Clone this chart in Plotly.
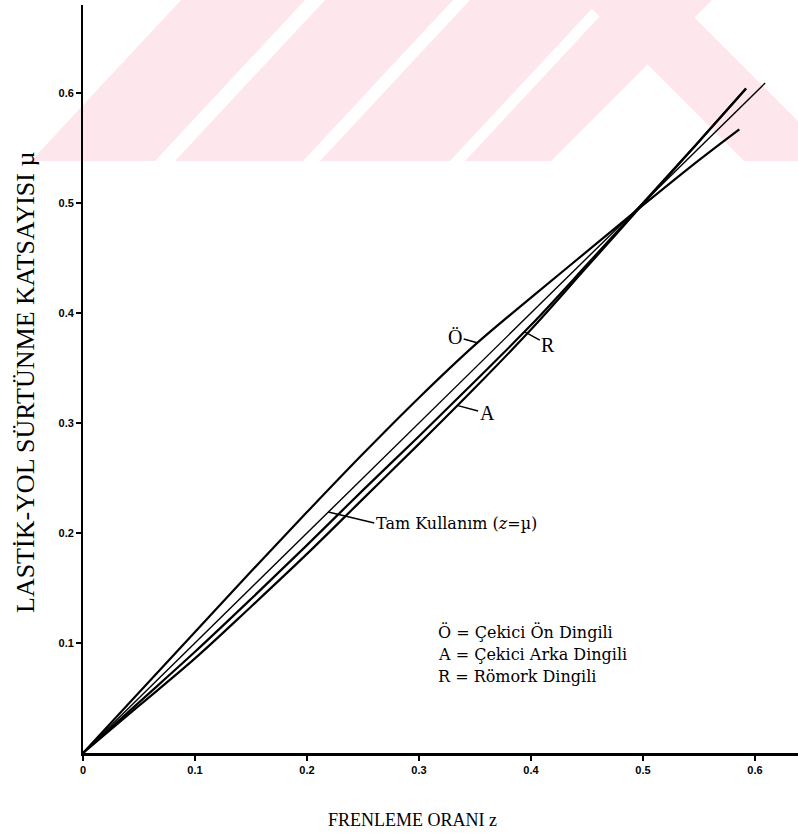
import plotly.graph_objects as go

# ---- data ----
z_diag = [0.0, 0.609]
mu_diag = [0.0, 0.609]

z_O = [0, 0.05, 0.10, 0.15, 0.20, 0.25, 0.30, 0.35, 0.40, 0.45, 0.50, 0.55, 0.586]
mu_O = [0, 0.055, 0.110, 0.165, 0.219, 0.272, 0.323, 0.371, 0.414, 0.456, 0.498, 0.539, 0.567]

z_R = [0, 0.05, 0.10, 0.15, 0.20, 0.25, 0.30, 0.35, 0.40, 0.45, 0.50, 0.55, 0.592]
mu_R = [0, 0.046, 0.092, 0.140, 0.189, 0.239, 0.288, 0.338, 0.389, 0.444, 0.500, 0.556, 0.604]

z_A = [0, 0.05, 0.10, 0.15, 0.20, 0.25, 0.30, 0.35, 0.40, 0.45, 0.50, 0.55, 0.592]
mu_A = [0, 0.043, 0.086, 0.133, 0.181, 0.231, 0.281, 0.332, 0.385, 0.442, 0.499, 0.556, 0.604]

x_ticks = [0, 0.1, 0.2, 0.3, 0.4, 0.5, 0.6]
x_ticktext = ["0", "0.1", "0.2", "0.3", "0.4", "0.5", "0.6"]
y_ticks = [0.1, 0.2, 0.3, 0.4, 0.5, 0.6]
y_ticktext = ["0.1", "0.2", "0.3", "0.4", "0.5", "0.6"]

legend_lines = ["Ö = Çekici Ön Dingili", "A = Çekici Arka Dingili", "R = Römork Dingili"]

W, H = 798, 834
ML, MR, MT, MB = 83, 0, 5, 81
PW, PH = W - ML - MR, H - MT - MB
X_MAX = PW / 1120.0
Y_MAX = PH / 1100.0

SERIF = "Liberation Serif, Times New Roman, serif"
WSERIF = "DejaVu Serif, serif"

def px(xp):
    return (xp - ML) / PW

def py(yp):
    return (H - MB - yp) / PH

fig = go.Figure()
line_style = dict(color="black", width=2.2)
fig.add_trace(go.Scatter(x=z_O, y=mu_O, mode="lines", line=line_style, line_shape="spline", hoverinfo="skip"))
fig.add_trace(go.Scatter(x=z_R, y=mu_R, mode="lines", line=line_style, line_shape="spline", hoverinfo="skip"))
fig.add_trace(go.Scatter(x=z_A, y=mu_A, mode="lines", line=line_style, line_shape="spline", hoverinfo="skip"))
fig.add_trace(go.Scatter(x=z_diag, y=mu_diag, mode="lines", line=dict(color="black", width=1.4), hoverinfo="skip"))

# watermark (pink band at the top of the scanned page)
pink = "rgba(253,231,236,1)"
polys = [
    [(181, 0), (305, 0), (155, 161), (31, 161)],
    [(325, 0), (453, 0), (303, 161), (175, 161)],
    [(470, 0), (600, 0), (450, 161), (320, 161)],
    [(615, 0), (712, 0), (551, 161), (465, 161)],
    [(583, 0), (677, 0), (838, 161), (744, 161)],
]
shapes = []
for poly in polys:
    path = "M " + " L ".join("{:.5f},{:.5f}".format(px(a), py(b)) for a, b in poly) + " Z"
    shapes.append(dict(type="path", xref="paper", yref="paper", path=path,
                       fillcolor=pink, line=dict(width=0), layer="below"))
fig.update_layout(shapes=shapes)

ann = []
def lab(text, x, y, ax, ay, size=20, anchor="center", family=SERIF):
    ann.append(dict(x=x, y=y, xref="x", yref="y", text=text, showarrow=True,
                    arrowhead=0, arrowwidth=1.5, arrowcolor="black", ax=ax, ay=ay,
                    xanchor=anchor, yanchor="middle", font=dict(family=family, size=size, color="black")))

lab("Ö", 0.352, 0.373, -22, -6)
lab("R", 0.394, 0.383, 24, 13)
lab("A", 0.334, 0.316, 30, 8)
lab("Tam Kullanım (<i>z</i>=µ)", 0.219, 0.219, 46, 11, size=16, anchor="left", family=WSERIF)

for i, t in enumerate(legend_lines):
    ann.append(dict(x=px(436), y=py(632 + 22 * i), xref="paper", yref="paper", text=t,
                    showarrow=False, xanchor="left", yanchor="middle",
                    font=dict(family=WSERIF, size=16, color="black")))

ann.append(dict(x=px(412), y=py(820), xref="paper", yref="paper", text="FRENLEME ORANI z",
                showarrow=False, xanchor="center", yanchor="middle",
                font=dict(family=SERIF, size=18, color="black")))
ann.append(dict(x=px(25), y=py(383), xref="paper", yref="paper",
                text="LASTİK-YOL SÜRTÜNME KATSAYISI µ", textangle=-90,
                showarrow=False, xanchor="center", yanchor="middle",
                font=dict(family=SERIF, size=26, color="black")))

tickfont = dict(family="Liberation Sans Narrow, Arial Narrow, sans-serif", size=11, color="black", weight="bold")

fig.update_layout(
    width=W, height=H,
    margin=dict(l=ML, r=MR, t=MT, b=MB, pad=0),
    paper_bgcolor="white", plot_bgcolor="rgba(0,0,0,0)",
    showlegend=False,
    annotations=ann,
    xaxis=dict(range=[0, X_MAX], tickvals=x_ticks, ticktext=x_ticktext,
               showline=True, linecolor="black", linewidth=2.5, mirror=False,
               ticks="outside", ticklen=5, tickwidth=1.5, tickcolor="black",
               showgrid=False, zeroline=False, tickfont=tickfont, fixedrange=True),
    yaxis=dict(range=[0, Y_MAX], tickvals=y_ticks, ticktext=y_ticktext,
               showline=True, linecolor="black", linewidth=1.8,
               ticks="outside", ticklen=5, tickwidth=1.5, tickcolor="black",
               showgrid=False, zeroline=False, tickfont=tickfont, fixedrange=True),
)

fig.write_html("out.html")
